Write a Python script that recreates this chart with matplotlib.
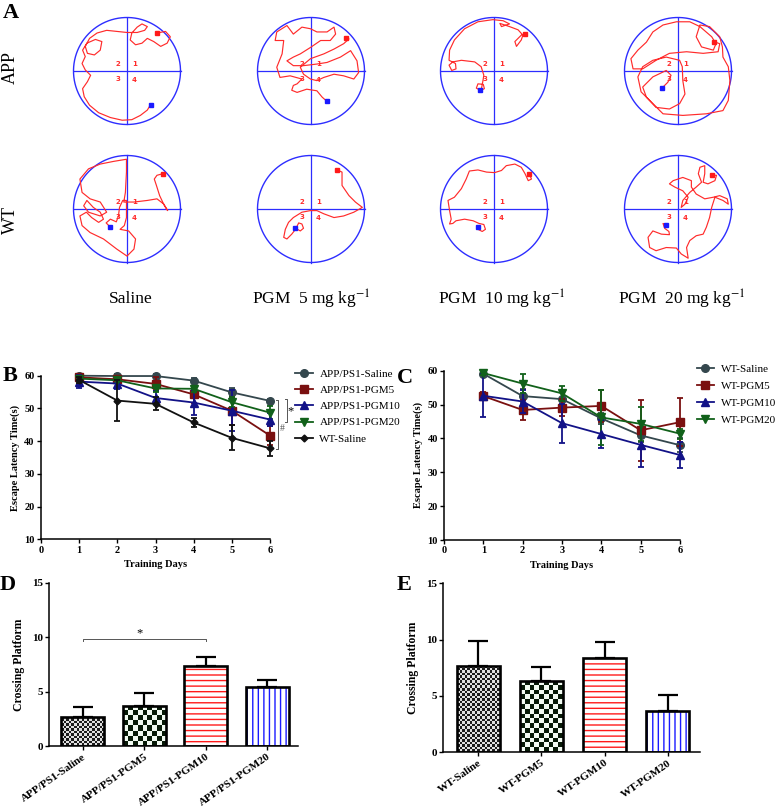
import numpy as np
import matplotlib
matplotlib.use('Agg')
import matplotlib.pyplot as plt
from matplotlib.colors import ListedColormap

plt.rcParams['font.family'] = ['Liberation Serif', 'DejaVu Serif']
plt.rcParams['mathtext.fontset'] = 'stix'

W, H = 779, 810

# ---------------- panel A: swim paths (unit circle, y points down) ----------------
dose_labels = ['Saline', 'PGM  5 mg kg$^{-1}$', 'PGM  10 mg kg$^{-1}$', 'PGM  20 mg kg$^{-1}$']
row_labels = ['APP', 'WT']

path_app_saline = [(0.44, 0.63), (0.38, 0.73), (0.25, 0.83), (0.09, 0.91), (-0.09, 0.92), (-0.31, 0.87),
                   (-0.53, 0.78), (-0.70, 0.64), (-0.80, 0.48), (-0.83, 0.33), (-0.74, 0.20), (-0.68, 0.08),
                   (-0.78, -0.02), (-0.84, -0.14), (-0.78, -0.27), (-0.83, -0.39), (-0.75, -0.52), (-0.59, -0.59),
                   (-0.47, -0.55), (-0.50, -0.39), (-0.61, -0.30), (-0.74, -0.33), (-0.78, -0.46), (-0.70, -0.61),
                   (-0.56, -0.71), (-0.38, -0.76), (-0.19, -0.74), (0.0, -0.72), (0.19, -0.72), (0.33, -0.76),
                   (0.38, -0.83), (0.28, -0.88), (0.19, -0.82), (0.09, -0.71), (0.06, -0.58), (0.16, -0.49),
                   (0.28, -0.52), (0.38, -0.61), (0.50, -0.55), (0.63, -0.46), (0.75, -0.52), (0.81, -0.64),
                   (0.72, -0.74), (0.56, -0.71)]
path_app_pgm5 = [(0.29, 0.56), (0.21, 0.49), (0.11, 0.37), (-0.08, 0.34), (-0.26, 0.40), (-0.36, 0.36),
                 (-0.33, 0.27), (-0.26, 0.24), (-0.17, 0.15), (-0.39, 0.09), (-0.58, 0.12), (-0.64, -0.07),
                 (-0.54, -0.32), (-0.51, -0.57), (-0.67, -0.57), (-0.64, -0.73), (-0.45, -0.85), (-0.33, -0.69),
                 (-0.17, -0.82), (-0.01, -0.79), (0.11, -0.73), (0.30, -0.73), (0.43, -0.82), (0.46, -0.69),
                 (0.36, -0.57), (0.18, -0.57), (-0.01, -0.44), (-0.20, -0.32), (-0.33, -0.26), (-0.45, -0.19),
                 (-0.33, -0.10), (-0.14, -0.10), (0.11, -0.13), (0.30, -0.16), (0.55, -0.26), (0.74, -0.38),
                 (0.86, -0.19), (0.89, 0.03), (0.80, 0.15), (0.61, 0.09), (0.43, 0.06), (0.24, 0.12),
                 (0.11, 0.18), (-0.01, 0.15), (-0.14, 0.06), (-0.20, -0.07), (-0.01, -0.23), (0.24, -0.32),
                 (0.43, -0.41), (0.61, -0.51), (0.71, -0.60), (0.66, -0.61)]
path_app_pgm10 = [(-0.26, 0.36), (-0.33, 0.32), (-0.30, 0.24), (-0.20, 0.25), (-0.18, 0.33), (-0.24, 0.36),
                  (-0.21, 0.20), (-0.19, 0.08), (-0.24, -0.08), (-0.36, -0.17), (-0.61, -0.20), (-0.77, -0.17),
                  (-0.84, -0.11), (-0.79, -0.01), (-0.71, -0.04), (-0.72, -0.14), (-0.84, -0.20), (-0.83, -0.39),
                  (-0.74, -0.58), (-0.55, -0.79), (-0.30, -0.92), (-0.02, -0.96), (0.17, -0.94), (0.29, -0.88),
                  (0.14, -0.83), (0.11, -0.89), (0.29, -0.83), (0.45, -0.77), (0.54, -0.67), (0.51, -0.58),
                  (0.42, -0.46), (0.39, -0.55), (0.51, -0.67), (0.58, -0.70)]
path_app_pgm20 = [(-0.29, 0.31), (-0.19, 0.21), (-0.13, 0.08), (-0.22, -0.01), (-0.47, 0.11), (-0.66, 0.30),
                  (-0.59, 0.49), (-0.41, 0.68), (-0.16, 0.71), (0.03, 0.61), (0.13, 0.43), (0.09, 0.18),
                  (0.08, -0.08), (0.03, -0.20), (-0.22, -0.26), (-0.47, -0.20), (-0.66, -0.08), (-0.75, 0.11),
                  (-0.69, 0.39), (-0.47, 0.61), (-0.28, 0.80), (0.09, 0.83), (0.53, 0.80), (0.84, 0.74),
                  (0.94, 0.55), (0.97, 0.18), (0.94, -0.08), (0.84, -0.26), (0.83, -0.45), (0.78, -0.64),
                  (0.59, -0.83), (0.41, -0.86), (0.34, -0.64), (0.44, -0.45), (0.66, -0.39), (0.71, -0.51),
                  (0.63, -0.64), (0.41, -0.83), (0.22, -0.92), (-0.03, -0.92), (-0.28, -0.86), (-0.47, -0.73),
                  (-0.59, -0.54), (-0.75, -0.39), (-0.88, -0.23), (-0.84, -0.04), (-0.66, -0.04), (-0.41, -0.20),
                  (-0.16, -0.33), (0.16, -0.36), (0.47, -0.33), (0.75, -0.36), (0.78, -0.51), (0.67, -0.55)]
path_wt_saline = [(-0.31, 0.34), (-0.39, 0.26), (-0.31, 0.19), (-0.20, 0.24), (-0.16, 0.13), (-0.14, -0.03),
                  (-0.08, -0.16), (-0.01, -0.16), (-0.01, 0.16), (-0.05, 0.31), (-0.13, 0.38), (0.03, 0.41),
                  (0.16, 0.56), (0.13, 0.75), (0.0, 0.88), (-0.19, 0.75), (-0.44, 0.56), (-0.69, 0.44),
                  (-0.84, 0.31), (-0.88, 0.13), (-0.76, 0.06), (-0.66, 0.16), (-0.53, 0.25), (-0.44, 0.19),
                  (-0.50, 0.06), (-0.63, -0.03), (-0.75, -0.16), (-0.81, -0.06), (-0.72, 0.06), (-0.50, 0.13),
                  (-0.38, 0.06), (-0.50, -0.13), (-0.69, -0.19), (-0.84, -0.31), (-0.88, -0.56), (-0.72, -0.75),
                  (-0.50, -0.84), (-0.25, -0.89), (-0.01, -0.93), (-0.01, -0.69), (-0.03, -0.31), (-0.06, -0.13),
                  (0.13, -0.13), (0.38, -0.16), (0.56, -0.19), (0.69, -0.09), (0.76, 0.03), (0.70, -0.06),
                  (0.61, -0.25), (0.55, -0.44), (0.51, -0.56), (0.56, -0.63), (0.67, -0.66)]
path_wt_pgm5 = [(0.49, -0.73), (0.58, -0.69), (0.58, -0.44), (0.71, -0.25), (0.83, -0.13), (0.96, -0.03),
                (0.80, 0.06), (0.61, 0.13), (0.43, 0.16), (0.24, 0.09), (0.11, 0.03), (-0.01, 0.03),
                (-0.17, 0.06), (-0.33, 0.16), (-0.42, 0.25), (-0.48, 0.38), (-0.51, 0.53), (-0.45, 0.56),
                (-0.36, 0.47), (-0.29, 0.38), (-0.23, 0.26), (-0.17, 0.28), (-0.14, 0.36), (-0.20, 0.41),
                (-0.29, 0.36)]
path_wt_pgm10 = [(0.66, -0.66), (0.70, -0.56), (0.64, -0.53), (0.58, -0.66), (0.51, -0.78), (0.39, -0.84),
                 (0.23, -0.81), (0.14, -0.72), (0.01, -0.68), (-0.14, -0.69), (-0.30, -0.73), (-0.46, -0.71),
                 (-0.52, -0.56), (-0.61, -0.38), (-0.74, -0.22), (-0.86, -0.16), (-0.83, 0.03), (-0.80, 0.19),
                 (-0.83, 0.28), (-0.77, 0.27), (-0.71, 0.22), (-0.55, 0.19), (-0.39, 0.22), (-0.28, 0.27),
                 (-0.19, 0.29), (-0.16, 0.38), (-0.22, 0.42), (-0.30, 0.38), (-0.30, 0.34)]
path_wt_pgm20 = [(-0.22, 0.29), (-0.28, 0.27), (-0.25, 0.36), (-0.17, 0.42), (-0.16, 0.48), (-0.31, 0.47),
                 (-0.47, 0.41), (-0.56, 0.53), (-0.53, 0.72), (-0.41, 0.78), (-0.22, 0.72), (-0.03, 0.73),
                 (0.06, 0.84), (0.19, 0.92), (0.16, 0.72), (0.22, 0.59), (0.34, 0.50), (0.47, 0.47),
                 (0.53, 0.34), (0.59, 0.16), (0.63, -0.03), (0.69, -0.22), (0.84, -0.16), (0.94, -0.09),
                 (0.92, -0.19), (0.78, -0.25), (0.66, -0.22), (0.50, -0.19), (0.34, -0.28), (0.25, -0.41),
                 (0.25, -0.53), (0.09, -0.59), (-0.09, -0.53), (-0.16, -0.47), (-0.06, -0.41), (0.09, -0.34),
                 (0.19, -0.22), (0.13, -0.09), (0.06, -0.03), (0.09, -0.16), (0.22, -0.31), (0.34, -0.41),
                 (0.44, -0.50), (0.38, -0.66), (0.41, -0.78), (0.50, -0.81), (0.50, -0.66), (0.47, -0.50),
                 (0.56, -0.47), (0.69, -0.53), (0.72, -0.63), (0.64, -0.63)]

paths = [[path_app_saline, path_app_pgm5, path_app_pgm10, path_app_pgm20],
         [path_wt_saline, path_wt_pgm5, path_wt_pgm10, path_wt_pgm20]]
# start (red) and end (blue) squares
start_pts = [[(0.56, -0.71), (0.66, -0.61), (0.58, -0.70), (0.67, -0.55)],
             [(0.67, -0.66), (0.49, -0.73), (0.66, -0.66), (0.64, -0.63)]]
end_pts = [[(0.44, 0.63), (0.29, 0.56), (-0.26, 0.36), (-0.29, 0.31)],
           [(-0.31, 0.34), (-0.29, 0.36), (-0.30, 0.34), (-0.22, 0.29)]]

# ---------------- panel B: APP/PS1 escape latency ----------------
days = [1, 2, 3, 4, 5, 6]
b_names = ['APP/PS1-Saline', 'APP/PS1-PGM5', 'APP/PS1-PGM10', 'APP/PS1-PGM20', 'WT-Saline']
b_means = [[60.0, 59.9, 59.9, 58.5, 54.9, 52.3],
           [59.5, 58.9, 57.5, 54.3, 49.3, 41.7],
           [58.2, 57.6, 53.2, 51.8, 49.3, 46.6],
           [59.1, 58.6, 56.1, 56.0, 51.9, 48.7],
           [58.7, 52.4, 51.4, 45.7, 41.0, 37.8]]
b_err = [[0.5, 0.5, 0.5, 0.8, 1.2, 0.6],
         [0.8, 1.0, 2.0, 2.5, 4.3, 2.8],
         [2.0, 1.8, 2.0, 3.8, 6.3, 2.0],
         [0.6, 0.8, 1.0, 1.0, 1.5, 2.0],
         [1.0, 6.2, 2.0, 1.5, 3.8, 2.3]]

# ---------------- panel C: WT escape latency ----------------
c_names = ['WT-Saline', 'WT-PGM5', 'WT-PGM10', 'WT-PGM20']
c_means = [[59.1, 52.5, 51.6, 45.9, 40.9, 38.0],
           [52.5, 48.4, 49.1, 49.6, 42.4, 44.8],
           [52.6, 50.9, 44.5, 41.3, 38.1, 35.1],
           [59.3, 56.2, 53.3, 46.2, 44.3, 41.4]]
c_err = [[0.5, 2.0, 2.0, 1.5, 2.0, 2.0],
         [1.2, 3.0, 2.5, 4.8, 9.0, 7.0],
         [6.3, 3.5, 5.8, 4.0, 6.5, 3.8],
         [0.5, 2.8, 2.2, 8.0, 5.0, 1.5]]

# ---------------- panels D / E: platform crossings ----------------
d_groups = ['APP/PS1-Saline', 'APP/PS1-PGM5', 'APP/PS1-PGM10', 'APP/PS1-PGM20']
d_vals = [2.7, 3.7, 7.35, 5.4]
d_err = [0.85, 1.15, 0.85, 0.65]
e_groups = ['WT-Saline', 'WT-PGM5', 'WT-PGM10', 'WT-PGM20']
e_vals = [7.68, 6.34, 8.39, 3.68]
e_err = [2.2, 1.2, 1.4, 1.4]

line_colors = ['#34474d', '#7a1010', '#121287', '#11611a', '#111111']
line_markers = ['o', 's', '^', 'v', 'D']
marker_sizes = [5.5, 5.5, 5.5, 5.5, 3.5]

fig = plt.figure(figsize=(W / 100, H / 100), dpi=100)


def px_axes(left, top, width, height):
    return fig.add_axes([left / W, 1 - (top + height) / H, width / W, height / H])


# ---- A ----
circle_x = [127, 311, 494, 678]
circle_y = [71, 209]
rad = 53.5
theta = np.linspace(0, 2 * np.pi, 200)
for r in range(2):
    for c in range(4):
        ax = px_axes(circle_x[c] - 1.1 * rad, circle_y[r] - 1.1 * rad, 2.2 * rad, 2.2 * rad)
        ax.set_xlim(-1.1, 1.1)
        ax.set_ylim(1.1, -1.1)
        ax.axis('off')
        ax.plot(np.cos(theta), np.sin(theta), color='#2d2dff', lw=1.0)
        ax.plot([-1, 1], [0, 0], color='#2d2dff', lw=0.9)
        ax.plot([0, 0], [-1, 1], color='#2d2dff', lw=0.9)
        p = np.array(paths[r][c])
        ax.plot(p[:, 0], p[:, 1], color='#ff2b2b', lw=0.85)
        for txt, (qx, qy) in zip(['2', '1', '3', '4'],
                                 [(-0.17, -0.13), (0.14, -0.13), (-0.17, 0.15), (0.14, 0.16)]):
            ax.text(qx, qy, txt, color='#ff2b2b', fontsize=5, fontweight='bold',
                    ha='center', va='center', family='DejaVu Sans')
        sx, sy = start_pts[r][c]
        ex, ey = end_pts[r][c]
        ax.plot(sx, sy, 's', color='#ff1a1a', ms=3.5)
        ax.plot(ex, ey, 's', color='#1a1aff', ms=3.5)

fig.text(3 / W, 1 - 3 / H, 'A', fontsize=16, fontweight='bold', ha='left', va='top')
fig.text(10 / W, 1 - 67 / H, row_labels[0], fontsize=13, rotation=90, ha='center', va='center')
fig.text(10 / W, 1 - 220 / H, row_labels[1], fontsize=13, rotation=90, ha='center', va='center')
label_x = [131, 311, 502, 682]
for lx, lab in zip(label_x, dose_labels):
    fig.text(lx / W, 1 - 299 / H, lab, fontsize=12.5, ha='center', va='center')


def style_axes(ax, tick_size=7.5):
    for side in ['top', 'right']:
        ax.spines[side].set_visible(False)
    for side in ['left', 'bottom']:
        ax.spines[side].set_linewidth(1.1)
    ax.tick_params(direction='out', length=3, width=1.0, labelsize=tick_size, pad=1.5)
    for lab in ax.get_xticklabels() + ax.get_yticklabels():
        lab.set_fontweight('bold')


# ---- B ----
axb = px_axes(41, 375.7, 229, 163.6)
b_handles = []
for i in range(len(b_names)):
    cont = axb.errorbar(days, b_means[i], yerr=b_err[i], color=line_colors[i], marker=line_markers[i],
                        ms=marker_sizes[i], lw=1.3, elinewidth=1.3, capsize=2.5, capthick=1.3, clip_on=False,
                        zorder=3 + i * 0.1)
    b_handles.append(cont.lines[0])
axb.set_xlim(0, 6)
axb.set_ylim(10, 60)
axb.set_xticks(range(0, 7))
axb.set_yticks(range(10, 61, 10))
style_axes(axb)
axb.set_ylabel('Escape Latency Time(s)', fontsize=7.5, fontweight='bold', labelpad=3)
axb.set_xlabel('Training Days', fontsize=7.5, fontweight='bold', labelpad=4)
# significance brackets
for bx, y0, y1, mark, mx, my in [(6.21, 52.5, 37.5, '#', 6.32, 43.9), (6.45, 52.8, 46.0, '*', 6.55, 49.0)]:
    axb.plot([bx - 0.06, bx, bx, bx - 0.06], [y0, y0, y1, y1], color='#555555', lw=0.7, clip_on=False)
    axb.text(mx, my, mark, fontsize=7 if mark == '#' else 9, color='#555555' if mark == '#' else 'black',
             ha='center', va='center', clip_on=False)
fig.legend(b_handles, b_names, loc='upper left', bbox_to_anchor=(295 / W, 1 - 369 / H), frameon=False,
           fontsize=8, handlelength=1.6, handletextpad=0.6, labelspacing=0.58, borderpad=0, borderaxespad=0)
fig.text(3 / W, 1 - 376 / H, 'B', fontsize=16, fontweight='bold', ha='left', va='center')

# ---- C ----
axc = px_axes(444, 370.7, 236, 169.3)
c_handles = []
for i in range(len(c_names)):
    cont = axc.errorbar(days, c_means[i], yerr=c_err[i], color=line_colors[i], marker=line_markers[i],
                        ms=marker_sizes[i], lw=1.3, elinewidth=1.3, capsize=2.5, capthick=1.3, clip_on=False,
                        zorder=3 + i * 0.1)
    c_handles.append(cont.lines[0])
axc.set_xlim(0, 6)
axc.set_ylim(10, 60)
axc.set_xticks(range(0, 7))
axc.set_yticks(range(10, 61, 10))
style_axes(axc)
axc.set_ylabel('Escape Latency Time(s)', fontsize=7.5, fontweight='bold', labelpad=3)
axc.set_xlabel('Training Days', fontsize=7.5, fontweight='bold', labelpad=4)
fig.legend(c_handles, c_names, loc='upper left', bbox_to_anchor=(697 / W, 1 - 364 / H), frameon=False,
           fontsize=8, handlelength=1.5, handletextpad=0.7, labelspacing=0.65, borderpad=0, borderaxespad=0)
fig.text(397 / W, 1 - 378 / H, 'C', fontsize=16, fontweight='bold', ha='left', va='center')


def checker_fill(ax, bar, x0, width, height, ncols, colors):
    p0 = ax.transData.transform((x0, 0))
    p1 = ax.transData.transform((x0 + width, height))
    cell = (p1[0] - p0[0]) / ncols
    nrows = max(1, int(round((p1[1] - p0[1]) / cell)))
    checker = np.indices((nrows, ncols)).sum(axis=0) % 2
    im = ax.imshow(checker, extent=(x0, x0 + width, 0, height), aspect='auto',
                   cmap=ListedColormap(colors), interpolation='nearest', zorder=1.5)
    im.set_clip_path(bar)


# ---- D / E bars ----
def draw_bars(ax, vals, errs, groups, width, xlim):
    x = np.arange(len(vals))
    ax.set_xlim(*xlim)
    ax.set_ylim(0, 15)
    # (kind, pattern, colour(s), ncols / hatch linewidth)
    styles = [('checker', None, ['#e0e0e0', '#1c1c1c'], 17),
              ('checker', None, ['#f2fbf2', '#071a07'], 9),
              ('hatch', '---', '#ff1a1a', 1.0),
              ('hatch', '|||', '#1a1aff', 1.0)]
    for i, (kind, h, col, extra) in enumerate(styles):
        x0 = x[i] - width / 2
        if kind == 'checker':
            bar = ax.bar(x[i], vals[i], width, color='white', linewidth=0, zorder=1)[0]
            checker_fill(ax, bar, x0, width, vals[i], extra, col)
        else:
            with plt.rc_context({'hatch.linewidth': extra}):
                ax.bar(x[i], vals[i], width, color='white', edgecolor=col, hatch=h, linewidth=0, zorder=1)
    ax.bar(x, vals, width, fill=False, edgecolor='black', linewidth=1.9, zorder=2)
    ax.errorbar(x, vals, yerr=[[0] * len(vals), errs], fmt='none', ecolor='black', elinewidth=1.6,
                capsize=7.5, capthick=1.6, zorder=1.8)
    ax.set_xlim(*xlim)
    ax.set_ylim(0, 15)
    ax.set_xticks(x)
    ax.set_xticklabels(groups, rotation=35, ha='right', rotation_mode='anchor')
    ax.set_yticks([0, 5, 10, 15])
    style_axes(ax, tick_size=8)
    ax.set_ylabel('Crossing Platform', fontsize=8.5, fontweight='bold', labelpad=5)


axd = px_axes(49, 582.7, 249, 163.3)
draw_bars(axd, d_vals, d_err, d_groups, 0.7, (-0.545, 3.5))
axd.plot([0, 0, 2, 2], [9.6, 9.83, 9.83, 9.6], color='#555555', lw=0.7)
axd.text(0.93, 10.35, '*', fontsize=9, ha='center', va='center')
fig.text(0, 1 - 585 / H, 'D', fontsize=16, fontweight='bold', ha='left', va='center')

axe = px_axes(443.3, 583.3, 256.7, 168.7)
draw_bars(axe, e_vals, e_err, e_groups, 0.68, (-0.55, 3.51))
fig.text(397 / W, 1 - 585 / H, 'E', fontsize=16, fontweight='bold', ha='left', va='center')

fig.savefig('out.png', dpi=100)
